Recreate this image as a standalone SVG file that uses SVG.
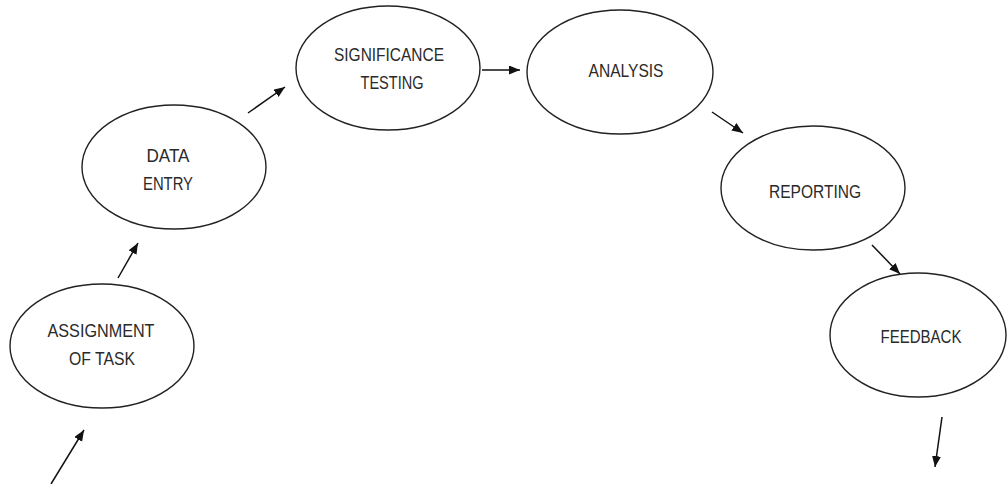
<svg xmlns="http://www.w3.org/2000/svg" width="1007" height="484" viewBox="0 0 1007 484">
<style>
.node ellipse{fill:#fff;stroke:#222;stroke-width:1.4}
.node text{font-family:"Liberation Sans",Arial,sans-serif;font-size:18px;fill:#2a2a2a;text-anchor:middle}
.conn line{stroke:#111;stroke-width:1.5;fill:none}
</style>
<defs>
<marker id="ah" markerUnits="userSpaceOnUse" markerWidth="12" markerHeight="10" refX="11" refY="4.5" orient="auto">
<path d="M0,0 L11,4.5 L0,9 z" fill="#111"/>
</marker>
</defs>
<rect width="1007" height="484" fill="#fff"/>
<g class="conn">
<line x1="51" y1="484" x2="84" y2="430" marker-end="url(#ah)"/>
<line x1="118" y1="278" x2="138" y2="243" marker-end="url(#ah)"/>
<line x1="248" y1="113" x2="285" y2="87" marker-end="url(#ah)"/>
<line x1="482" y1="70" x2="520" y2="70" marker-end="url(#ah)"/>
<line x1="712" y1="112" x2="743" y2="133" marker-end="url(#ah)"/>
<line x1="872" y1="245" x2="900" y2="274" marker-end="url(#ah)"/>
<line x1="942" y1="417" x2="935" y2="467" marker-end="url(#ah)"/>
</g>
<g id="assignment" class="node">
<ellipse cx="102" cy="346" rx="92" ry="62"/>
<text x="101" y="337" textLength="107" lengthAdjust="spacingAndGlyphs">ASSIGNMENT</text>
<text x="102" y="365" textLength="66" lengthAdjust="spacingAndGlyphs">OF TASK</text>
</g>
<g id="dataentry" class="node">
<ellipse cx="174" cy="167" rx="92" ry="62"/>
<text x="168" y="162" textLength="43" lengthAdjust="spacingAndGlyphs">DATA</text>
<text x="168" y="190" textLength="50" lengthAdjust="spacingAndGlyphs">ENTRY</text>
</g>
<g id="significance" class="node">
<ellipse cx="388" cy="68" rx="92" ry="62"/>
<text x="389" y="61" textLength="110" lengthAdjust="spacingAndGlyphs">SIGNIFICANCE</text>
<text x="392" y="89" textLength="63" lengthAdjust="spacingAndGlyphs">TESTING</text>
</g>
<g id="analysis" class="node">
<ellipse cx="620" cy="72" rx="93" ry="62"/>
<text x="626" y="77" textLength="75" lengthAdjust="spacingAndGlyphs">ANALYSIS</text>
</g>
<g id="reporting" class="node">
<ellipse cx="813" cy="188" rx="92" ry="62"/>
<text x="815" y="198" textLength="92" lengthAdjust="spacingAndGlyphs">REPORTING</text>
</g>
<g id="feedback" class="node">
<ellipse cx="918" cy="335" rx="88" ry="62"/>
<text x="921" y="343" textLength="81" lengthAdjust="spacingAndGlyphs">FEEDBACK</text>
</g>
</svg>
